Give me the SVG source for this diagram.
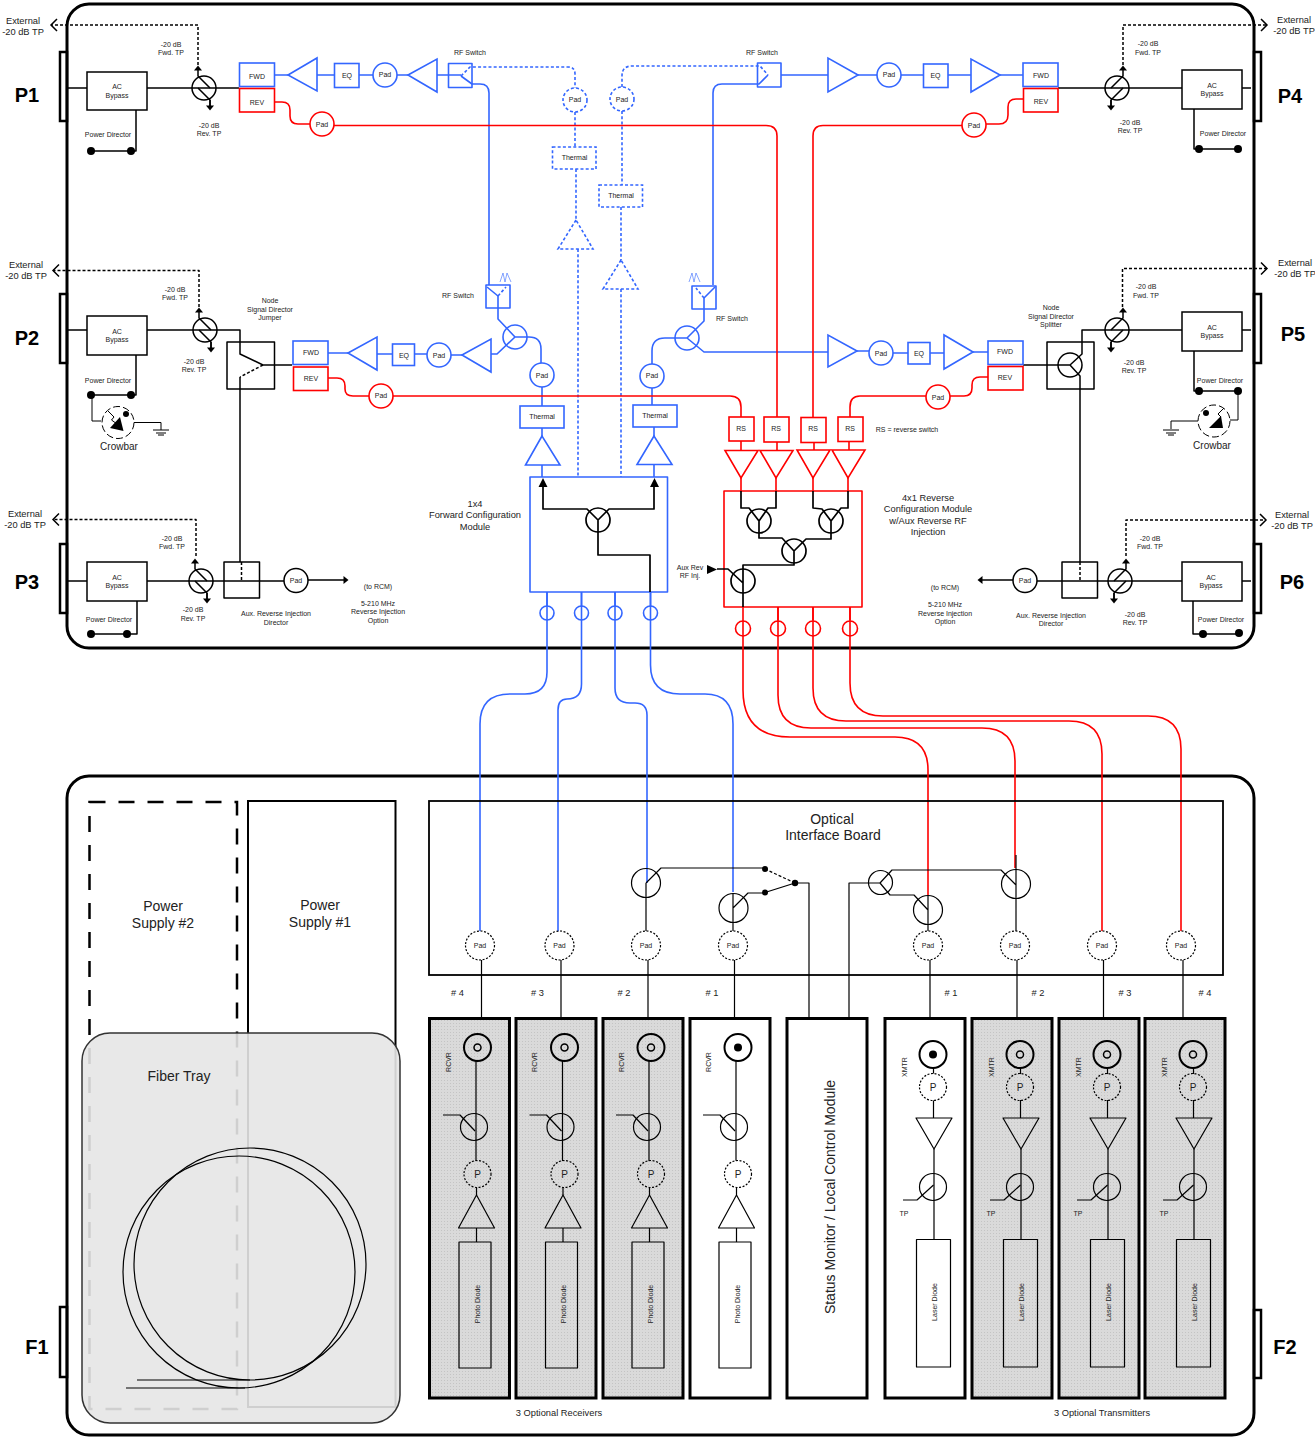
<svg xmlns="http://www.w3.org/2000/svg" width="1315" height="1437" viewBox="0 0 1315 1437">
<style>
text{font-family:"Liberation Sans",Arial,sans-serif;font-size:7px;fill:#222;text-anchor:middle}
.t9{font-size:9.300px}.t14{font-size:14px}.t10{font-size:10px}.big{font-size:20px;font-weight:bold;fill:#000}
.k,.b,.r{fill:none;stroke-linejoin:round}
.k{stroke:#000;stroke-width:1.5}.b{stroke:#3366ff;stroke-width:1.6}.r{stroke:#f00;stroke-width:1.6}
.k1{stroke-width:1}.k12{stroke-width:1.2}.k17{stroke-width:1.700}.k2{stroke-width:2}.thin{stroke-width:.6}
.bd{stroke-dasharray:3 2.2}.kd{stroke-dasharray:3 2}
.wb{fill:#fff;stroke:#3366ff;stroke-width:1.6}.wr{fill:#fff;stroke:#f00;stroke-width:1.6}.wk{fill:#fff;stroke:#000;stroke-width:1.5}
.pd{fill:#fff;stroke:#000;stroke-width:1.2;stroke-dasharray:2 1.6}.nf{fill:none}
.ch{fill:none;stroke:#000;stroke-width:3}.pt{fill:none;stroke:#000;stroke-width:2.5}
.card{stroke:#000;stroke-width:3}.dk{fill:#000;stroke:none}
</style>
<defs>
<pattern id="dots" width="3" height="3" patternUnits="userSpaceOnUse"><rect width="3" height="3" fill="#dadada"/><rect width="1" height="1" fill="#c4c4c4"/></pattern>
<marker id="ah" markerUnits="userSpaceOnUse" markerWidth="10" markerHeight="10" refX="5" refY="5" orient="auto"><path d="M2.500,1L7.500,5L2.500,9z" fill="#000"/></marker>
<marker id="chev" markerUnits="userSpaceOnUse" markerWidth="12" markerHeight="16" refX="7" refY="8" orient="auto"><path d="M1,2L7,8L1,14" fill="none" stroke="#000" stroke-width="1.5"/></marker>
<g id="cpL"><circle r="12" class="k"/><path class="k" d="M-6,-14V-12L6,0M-6,0L6,12V19"/><path class="k" d="M-6,-14V-20" marker-end="url(#ah)"/><path class="k" d="M6,12V20" marker-end="url(#ah)"/></g>
<g id="cpR"><circle r="12" class="k"/><path class="k" d="M6,-14V-12L-6,0M6,0L-6,12V19"/><path class="k" d="M6,-14V-20" marker-end="url(#ah)"/><path class="k" d="M-6,12V20" marker-end="url(#ah)"/></g>
<g id="rcvrBody"><path class="k k12" d="M46.500,43V143M47,169V177M47,210V224"/><circle class="k k12" cx="44.500" cy="109" r="13.500"/><path class="k k12" d="M13.500,97H30.500L45.500,113"/><path class="k k12" d="M47,177L29,210H65Z"/><rect class="k k12" x="29.500" y="224" width="32" height="126"/></g>
<g id="xmtrBody"><path class="k k12" d="M48.500,50V56M48.500,82V100M49,131V221"/><circle class="k k12" cx="48" cy="169" r="13.500"/><path class="k k12" d="M48.500,167L32,182H18"/><path class="k k12" d="M31,100H67L49,131Z"/><rect class="k k12" x="31.500" y="221.500" width="34" height="127.500"/></g>
<g id="gnd"><path class="k k1" d="M-8,0H8M-5,3H5M-3,5H3"/></g>
</defs>
<rect width="1315" height="1437" fill="#fff"/>

<g id="chassis-top"><rect class="ch" x="67" y="4" width="1187" height="644" rx="22"/></g>
<g id="chassis-bottom"><rect class="ch" x="67" y="776" width="1187" height="659" rx="22"/></g>

<g id="connectors">
<path class="k" d="M67,88H87M147,88H239M1058,88H1182M1242,88H1251"/>
<path class="k" d="M67,330H87M147,330H240V354L263,365H292M240,377V562"/>
<path class="k kd" d="M263,365L240,377"/>
<path class="k" d="M67,581H87M147,581H284"/>
<path class="k" d="M308,580H346" marker-end="url(#ah)"/>
<path class="k" d="M1182,330H1082V354L1070,365L1080,376V562M1023,365H1070M1242,330H1251"/>
<path class="k" d="M1251,581H1242M1182,581H1037"/>
<path class="k" d="M1013,580H980" marker-end="url(#ah)"/>
<path class="k kd" d="M241.500,562V581M1080,562V581"/>
<path class="k kd" d="M198,65V25H51" marker-end="url(#chev)"/>
<path class="k kd" d="M199,307V270.500H53" marker-end="url(#chev)"/>
<path class="k kd" d="M196,556V519.500H53" marker-end="url(#chev)"/>
<path class="k kd" d="M1123,65V25H1267" marker-end="url(#chev)"/>
<path class="k kd" d="M1122.500,307V268.500H1267" marker-end="url(#chev)"/>
<path class="k kd" d="M1126,556V520H1266" marker-end="url(#chev)"/>
<path class="k" d="M136,110V151H91"/>
<path class="k" d="M136,355V395H91"/>
<path class="k" d="M137,601V634H91"/>
<path class="k" d="M1194,109V149H1238"/>
<path class="k" d="M1194,351V391H1238"/>
<path class="k" d="M1193,601V634H1239"/>
<path class="k k1" d="M92,395V421H101M134,422.500H161V430"/>
<path class="k k1" d="M1238,391V420H1230M1198,421H1171V429"/>
<path class="b" d="M274,75H288M317,75H334M359,75H373M397,75H408M437,75H461M461,76L472,84H480Q489,84 489,93V285"/>
<path class="b bd" d="M461,76L470,67H568Q575,67 575,74V88M575,112V147M576,169V220M578,249V477"/>
<path class="b bd" d="M622,87V76Q622,66 632,66H760L768,75M622,111V185M621,207V260M621,289V477"/>
<path class="b" d="M781,75H828M858,75H877M901,75H923M948,75H971M1000,75H1023M768,75L759,84H722Q713,84 713,93V285"/>
<path class="b" d="M328,353H348M377,354H392M414,354H427M451,355H462M491,354H497L515,337L498,319V296M515,337H529Q541,337 541,349V363M542,387V406M542,428V436M542,465V477"/>
<path class="b" d="M828,352H704L687,338L704,321V298M687,338H665Q652,338 652,351V364M652,388V405M654,427V436M654,465V477"/>
<path class="b" d="M857,351H869M893,353H908M930,353H944M973,352H988"/>
<path class="b" d="M547,592V672Q547,694 525,694H510Q480,694 480,724V932"/>
<path class="b" d="M581.500,592V684Q581.500,699 567,699Q558,699 558,710V932"/>
<path class="b" d="M615,592V688Q615,703 630,703H635Q647,703 647,715V883"/>
<path class="b" d="M650.500,592V665Q650.500,694 680,694H705Q733,694 733,724V892"/>
<path class="r" d="M274,102H282Q290,102 290,110V116Q290,124 298,124H310M334,125.500H766Q777,125.500 777,136V417"/>
<path class="r" d="M1023,99H1016Q1008,99 1008,107V115Q1008,124 999,124H986M962,125.500H823Q813,125.500 813,136V417"/>
<path class="r" d="M328,378H337Q345,378 345,386V389Q345,396 353,396H369M393,396H730Q741,396 741,407V417"/>
<path class="r" d="M988,377H980Q972,377 972,385V388Q972,396 964,396H950M926,396H860Q850,396 850,407V417"/>
<path class="r" d="M741,441V450M741,478V491M777,442V450M776,478V491M814,442V450M813,478V491M849,441V450M848,478V491"/>
<path class="r" d="M743,607V690Q743,737 790,737H895Q928,737 928,770V895"/>
<path class="r" d="M778,607V695Q778,728 811,728H982Q1015,728 1015,761V868"/>
<path class="r" d="M813,607V688Q813,721 846,721H1069Q1102,721 1102,754V932"/>
<path class="r" d="M850,607V683Q850,716 883,716H1148Q1181,716 1181,749V932"/>
<path class="k k12" d="M646,883L661,868H765M646,883V931M733,893V931M733,908L748,893H765M765,892.500L795,883H809V1018"/>
<path class="k kd k12" d="M765,869L795,883"/>
<path class="k k12" d="M849,1018V883H880L892,870H1001L1016,885M880,883L890,895H914L928,910M928,895V931M1016,855V931"/>
<path class="k k12" d="M481.500,960V1018M561,960V1018M648,960V1018M734.500,960V1018M930,960V1018M1017,960V1018M1103.500,960V1018M1183,960V1018"/>
</g>

<g id="P1"><rect class="pt" x="60" y="52" width="7" height="69"/><text class="big" x="27" y="102">P1</text><text class="t9" x="23" y="24">External</text><text class="t9" x="23" y="35">-20 dB TP</text></g>
<g id="P2"><rect class="pt" x="60" y="294" width="7" height="69"/><text class="big" x="27" y="345">P2</text><text class="t9" x="26" y="268">External</text><text class="t9" x="26" y="279">-20 dB TP</text></g>
<g id="P3"><rect class="pt" x="60" y="544" width="7" height="69"/><text class="big" x="27" y="589">P3</text><text class="t9" x="25" y="517">External</text><text class="t9" x="25" y="528">-20 dB TP</text></g>
<g id="P4"><rect class="pt" x="1254" y="52" width="7" height="69"/><text class="big" x="1290" y="103">P4</text><text class="t9" x="1294" y="23">External</text><text class="t9" x="1294" y="34">-20 dB TP</text></g>
<g id="P5"><rect class="pt" x="1254" y="294" width="7" height="69"/><text class="big" x="1293" y="341">P5</text><text class="t9" x="1295" y="266">External</text><text class="t9" x="1295" y="277">-20 dB TP</text></g>
<g id="P6"><rect class="pt" x="1254" y="544" width="7" height="69"/><text class="big" x="1292" y="589">P6</text><text class="t9" x="1292" y="518">External</text><text class="t9" x="1292" y="529">-20 dB TP</text></g>
<g id="F1"><rect class="pt k2" x="60" y="1307" width="7" height="70"/><text class="big" x="37" y="1354">F1</text></g>
<g id="F2"><rect class="pt k2" x="1254" y="1310" width="7" height="68"/><text class="big" x="1285" y="1354">F2</text></g>

<g id="bypass-1"><rect class="wk" x="87" y="72" width="60" height="38"/><text x="117" y="89">AC</text><text x="117" y="98">Bypass</text></g>
<g id="bypass-2"><rect class="wk" x="87" y="316" width="60" height="39"/><text x="117" y="334">AC</text><text x="117" y="342">Bypass</text></g>
<g id="bypass-3"><rect class="wk" x="87" y="562" width="60" height="39"/><text x="117" y="580">AC</text><text x="117" y="588">Bypass</text></g>
<g id="bypass-4"><rect class="wk" x="1182" y="70" width="60" height="39"/><text x="1212" y="88">AC</text><text x="1212" y="96">Bypass</text></g>
<g id="bypass-5"><rect class="wk" x="1182" y="312" width="60" height="39"/><text x="1212" y="330">AC</text><text x="1212" y="338">Bypass</text></g>
<g id="bypass-6"><rect class="wk" x="1182" y="562" width="60" height="39"/><text x="1211" y="580">AC</text><text x="1211" y="588">Bypass</text></g>

<g id="coupler-1"><use href="#cpL" x="204" y="88"/><text x="171" y="47">-20 dB</text><text x="171" y="55">Fwd. TP</text><text x="209" y="128">-20 dB</text><text x="209" y="136">Rev. TP</text></g>
<g id="coupler-2"><use href="#cpL" x="205" y="330"/><text x="175" y="292">-20 dB</text><text x="175" y="300">Fwd. TP</text><text x="194" y="364">-20 dB</text><text x="194" y="372">Rev. TP</text></g>
<g id="coupler-3"><use href="#cpL" x="201" y="581"/><text x="172" y="541">-20 dB</text><text x="172" y="549">Fwd. TP</text><text x="193" y="612">-20 dB</text><text x="193" y="621">Rev. TP</text></g>
<g id="coupler-4"><use href="#cpR" x="1117" y="88"/><text x="1148" y="46">-20 dB</text><text x="1148" y="55">Fwd. TP</text><text x="1130" y="125">-20 dB</text><text x="1130" y="133">Rev. TP</text></g>
<g id="coupler-5"><use href="#cpR" x="1117" y="330"/><text x="1146" y="289">-20 dB</text><text x="1146" y="298">Fwd. TP</text><text x="1134" y="365">-20 dB</text><text x="1134" y="373">Rev. TP</text></g>
<g id="coupler-6"><use href="#cpR" x="1120" y="581"/><text x="1150" y="541">-20 dB</text><text x="1150" y="549">Fwd. TP</text><text x="1135" y="617">-20 dB</text><text x="1135" y="625">Rev. TP</text></g>

<g id="pd-1"><circle class="dk" cx="91" cy="151" r="4"/><circle class="dk" cx="131" cy="151" r="4"/><text x="108" y="137">Power Director</text></g>
<g id="pd-2"><circle class="dk" cx="91" cy="395" r="4"/><circle class="dk" cx="131" cy="395" r="4"/><text x="108" y="383">Power Director</text></g>
<g id="pd-3"><circle class="dk" cx="91" cy="634" r="4"/><circle class="dk" cx="127" cy="634" r="4"/><text x="109" y="622">Power Director</text></g>
<g id="pd-4"><circle class="dk" cx="1199" cy="149" r="4"/><circle class="dk" cx="1238" cy="149" r="4"/><text x="1223" y="136">Power Director</text></g>
<g id="pd-5"><circle class="dk" cx="1199" cy="391" r="4"/><circle class="dk" cx="1238" cy="391" r="4"/><text x="1220" y="383">Power Director</text></g>
<g id="pd-6"><circle class="dk" cx="1203" cy="634" r="4"/><circle class="dk" cx="1239" cy="633" r="4"/><text x="1221" y="622">Power Director</text></g>

<g id="crowbar-1"><circle class="k k1" stroke-dasharray="7 3" cx="118" cy="422.500" r="16"/><circle class="dk" cx="126" cy="414" r="3"/><path class="dk" d="M110,428L120,417L123.500,431Z"/><path class="k k1" d="M108,411L114,417L111.500,420L117,424"/><use href="#gnd" x="161" y="430"/><text class="t10" x="119" y="450">Crowbar</text></g>
<g id="crowbar-2"><circle class="k k1" stroke-dasharray="7 3" cx="1214" cy="421" r="16"/><circle class="dk" cx="1206" cy="413" r="3"/><path class="dk" d="M1209,428L1221,416L1223,428Z"/><path class="k k1" d="M1224,408L1218,414L1221,417"/><use href="#gnd" x="1171" y="430"/><text class="t10" x="1212" y="449">Crowbar</text></g>

<g id="jumper"><rect class="k" x="227" y="342" width="47.500" height="47"/><text x="270" y="303">Node</text><text x="270" y="312">Signal Director</text><text x="270" y="320">Jumper</text></g>
<g id="splitter"><rect class="k" x="1047" y="342" width="47" height="47"/><circle class="k" cx="1070" cy="365" r="12"/><text x="1051" y="310">Node</text><text x="1051" y="319">Signal Director</text><text x="1051" y="327">Splitter</text></g>
<g id="aux-dir-l"><rect class="k" x="224" y="562" width="35.500" height="36"/><text x="276" y="616">Aux. Reverse Injection</text><text x="276" y="625">Director</text></g>
<g id="aux-dir-r"><rect class="k" x="1062" y="562" width="35.500" height="36"/><text x="1051" y="618">Aux. Reverse Injection</text><text x="1051" y="626">Director</text></g>
<g id="pad-l"><circle class="wk" cx="296" cy="580.500" r="12"/><text x="296" y="583">Pad</text></g>
<g id="pad-r"><circle class="wk" cx="1025" cy="580.500" r="12"/><text x="1025" y="583">Pad</text></g>
<g id="opt-l"><text x="378" y="589">(to RCM)</text><text x="378" y="606">5-210 MHz</text><text x="378" y="614">Reverse Injection</text><text x="378" y="623">Option</text></g>
<g id="opt-r"><text x="945" y="590">(to RCM)</text><text x="945" y="607">5-210 MHz</text><text x="945" y="616">Reverse Injection</text><text x="945" y="624">Option</text></g>

<g id="fwd-1"><rect class="wb" x="239.500" y="63" width="35" height="23.500"/><text x="257" y="78.500">FWD</text></g>
<g id="rev-1"><rect class="wr" x="239.500" y="88.500" width="35" height="23.500"/><text x="257" y="105">REV</text></g>
<g id="amp-1"><path class="wb" d="M288,75L317,58V91Z"/></g>
<g id="eq-1"><rect class="wb" x="334.500" y="63.500" width="24.500" height="24"/><text x="347" y="78">EQ</text></g>
<g id="pad-1"><circle class="wb" cx="385" cy="75" r="12"/><text x="385" y="77">Pad</text></g>
<g id="amp-2"><path class="wb" d="M408,75L437,59V92Z"/></g>
<g id="rfsw-1"><rect class="b" x="448.500" y="63.500" width="23.500" height="24"/><text x="470" y="55">RF Switch</text></g>
<g id="pad-rev-1"><circle class="wr" cx="322" cy="124" r="12"/><text x="322" y="127">Pad</text></g>
<g id="pad-d1"><circle class="wb bd" cx="575" cy="100" r="12"/><text x="575" y="102">Pad</text></g>
<g id="thermal-d1"><rect class="wb bd" x="552.500" y="147" width="43.500" height="22"/><text x="574.500" y="160">Thermal</text></g>
<g id="amp-d1"><path class="wb bd" d="M576,220L558,249H593Z"/></g>
<g id="pad-d2"><circle class="wb bd" cx="622" cy="99" r="12"/><text x="622" y="102">Pad</text></g>
<g id="thermal-d2"><rect class="wb bd" x="599" y="185" width="43.500" height="22"/><text x="621" y="198">Thermal</text></g>
<g id="amp-d2"><path class="wb bd" d="M621,260L603,289H638Z"/></g>
<g id="rfsw-4"><rect class="b" x="757.500" y="63" width="23.500" height="24"/><text x="762" y="55">RF Switch</text></g>
<g id="amp-3"><path class="wb" d="M858,75L828,58V92Z"/></g>
<g id="pad-4"><circle class="wb" cx="889" cy="75" r="12"/><text x="889" y="77">Pad</text></g>
<g id="eq-4"><rect class="wb" x="923.500" y="64" width="24.500" height="23.500"/><text x="935.500" y="78">EQ</text></g>
<g id="amp-4"><path class="wb" d="M1000,75L971,59V92Z"/></g>
<g id="fwd-4"><rect class="wb" x="1023" y="63" width="35" height="23.500"/><text x="1041" y="78">FWD</text></g>
<g id="rev-4"><rect class="wr" x="1023.500" y="88.500" width="34.500" height="23.500"/><text x="1041" y="104">REV</text></g>
<g id="pad-rev-4"><circle class="wr" cx="974" cy="125" r="12"/><text x="974" y="128">Pad</text></g>
<g id="fwd-2"><rect class="wb" x="293" y="341" width="35" height="23.500"/><text x="311" y="355">FWD</text></g>
<g id="rev-2"><rect class="wr" x="293.500" y="367" width="34.500" height="23.500"/><text x="311" y="381">REV</text></g>
<g id="amp-5"><path class="wb" d="M348,353L377,337V370Z"/></g>
<g id="eq-2"><rect class="wb" x="392.500" y="344" width="22" height="21.500"/><text x="404" y="358">EQ</text></g>
<g id="pad-2"><circle class="wb" cx="439" cy="355" r="12"/><text x="439" y="358">Pad</text></g>
<g id="amp-6"><path class="wb" d="M462,355L491,339V372Z"/></g>
<g id="splitter-b1"><circle class="b" cx="515" cy="337" r="12"/></g>
<g id="rfsw-2"><rect class="b" x="486" y="285" width="24" height="23"/><path class="b" d="M498,296L487,287"/><path class="b bd" d="M498,296L506,287"/><path class="b thin" d="M500,282L503,273L505,282L507,273L511,282"/><text x="458" y="298">RF Switch</text></g>
<g id="pad-f1"><circle class="wb" cx="542" cy="375" r="12"/><text x="542" y="378">Pad</text></g>
<g id="thermal-1"><rect class="wb" x="520" y="406" width="44" height="22"/><text x="542" y="419">Thermal</text></g>
<g id="amp-f1"><path class="wb" d="M542,436L525.500,465H560Z"/></g>
<g id="rfsw-5"><rect class="b" x="692" y="286" width="24" height="23"/><path class="b" d="M704,298L715,287"/><path class="b bd" d="M704,298L696,288"/><path class="b thin" d="M689,282L692,273L694,282L696,273L700,282"/><text x="732" y="321">RF Switch</text></g>
<g id="splitter-b2"><circle class="b" cx="687" cy="338" r="12"/></g>
<g id="pad-f2"><circle class="wb" cx="652" cy="376" r="12"/><text x="652" y="378">Pad</text></g>
<g id="thermal-2"><rect class="wb" x="633" y="405" width="44" height="22"/><text x="655" y="418">Thermal</text></g>
<g id="amp-f2"><path class="wb" d="M654,436L637,464.500H672Z"/></g>
<g id="amp-7"><path class="wb" d="M857,351L828,335V367Z"/></g>
<g id="pad-5"><circle class="wb" cx="881" cy="353" r="12"/><text x="881" y="356">Pad</text></g>
<g id="eq-5"><rect class="wb" x="908" y="342.500" width="22" height="21.500"/><text x="919" y="356">EQ</text></g>
<g id="amp-8"><path class="wb" d="M973,352L944,335V369Z"/></g>
<g id="fwd-5"><rect class="wb" x="988" y="341" width="35" height="23.500"/><text x="1005" y="354">FWD</text></g>
<g id="rev-5"><rect class="wr" x="988" y="366.500" width="35" height="23.500"/><text x="1005" y="380">REV</text></g>
<g id="pad-rev-2"><circle class="wr" cx="381" cy="396" r="12"/><text x="381" y="398">Pad</text></g>
<g id="pad-rev-5"><circle class="wr" cx="938" cy="397" r="12"/><text x="938" y="400">Pad</text></g>
<g id="rs-1"><rect class="wr" x="729" y="417" width="25" height="24"/><text x="741" y="431">RS</text></g>
<g id="rs-2"><rect class="wr" x="764" y="417" width="25" height="25"/><text x="776" y="431">RS</text></g>
<g id="rs-3"><rect class="wr" x="801" y="417.500" width="25" height="25"/><text x="813" y="431">RS</text></g>
<g id="rs-4"><rect class="wr" x="838" y="417" width="25" height="24.500"/><text x="850" y="431">RS</text></g>
<g id="rs-note"><text x="907" y="432">RS = reverse switch</text></g>
<g id="ramp-1"><path class="wr" d="M725,450.500H758L741,478Z"/></g>
<g id="ramp-2"><path class="wr" d="M760,450.500H793L776,478Z"/></g>
<g id="ramp-3"><path class="wr" d="M797,450H830L813,478Z"/></g>
<g id="ramp-4"><path class="wr" d="M832,450H865L848,478Z"/></g>

<g id="forward-module">
<rect class="b" x="530" y="477" width="137.500" height="115"/>
<path class="k k17" d="M543,486V509H587L598,520L609,509H654V486M598,520V555H650V592"/>
<path class="dk" d="M543,478L538.500,487H547.500ZM654.500,478L650,487H659Z"/>
<circle class="k k17" cx="598" cy="520" r="12"/>
<text class="t9" x="475" y="507">1x4</text><text class="t9" x="475" y="518">Forward Configuration</text><text class="t9" x="475" y="530">Module</text>
</g>
<g id="fwd-ports"><path class="b" d="M547,592V606M581.500,592V606M615,592V606M650.500,592V606"/><circle class="b" cx="547" cy="613" r="7"/><circle class="b" cx="581.500" cy="613" r="7"/><circle class="b" cx="615" cy="613" r="7"/><circle class="b" cx="650.500" cy="613" r="7"/></g>

<g id="reverse-module">
<rect class="r" x="724" y="491" width="138" height="116"/>
<path class="k k17" d="M741,491V508H749L759,521L768,508H776V491M759,521V538H782L794,551L806,539H831V521L822,509L813,508V491M831,521L841,508H848V491M794,551V565H743V607M717,569H728L743,583"/>
<path class="dk" d="M707,565L717,569.500L707,574Z"/>
<circle class="k k17" cx="759" cy="521" r="12"/><circle class="k k17" cx="831" cy="521" r="12"/><circle class="k k17" cx="794" cy="551" r="12"/><circle class="k k17" cx="743" cy="581" r="12"/>
<text x="690" y="570">Aux Rev</text><text x="690" y="578">RF Inj.</text>
<text class="t9" x="928" y="501">4x1 Reverse</text><text class="t9" x="928" y="512">Configuration Module</text><text class="t9" x="928" y="524">w/Aux Reverse RF</text><text class="t9" x="928" y="535">Injection</text>
</g>
<g id="rev-ports"><path class="r" d="M778,607V620M813,607V620M850,607V620"/><circle class="r" cx="743" cy="628.500" r="7.500"/><circle class="r" cx="778" cy="628.500" r="7.500"/><circle class="r" cx="813" cy="628.500" r="7.500"/><circle class="r" cx="850" cy="628.500" r="7.500"/></g>

<g id="psu-2"><rect fill="none" stroke="#000" stroke-width="2.500" stroke-dasharray="16 13" x="89.500" y="802" width="147.500" height="607"/><text class="t14" x="163" y="911">Power</text><text class="t14" x="163" y="928">Supply #2</text></g>
<g id="psu-1"><rect fill="none" stroke="#000" stroke-width="2" x="248" y="801" width="147.500" height="606"/><text class="t14" x="320" y="910">Power</text><text class="t14" x="320" y="927">Supply #1</text></g>
<g id="fiber-tray"><rect fill="#e5e5e5" fill-opacity=".9" stroke="#333" stroke-width="1.500" x="82" y="1033" width="318" height="390" rx="28"/>
<circle class="k k12" cx="239" cy="1272" r="116"/><circle class="k k12" cx="250" cy="1264" r="116"/><path class="k k12" d="M126,1388H245M137,1380H250"/>
<text class="t14" x="179" y="1081">Fiber Tray</text></g>

<g id="optical-board"><rect fill="none" stroke="#000" stroke-width="1.800" x="429" y="801" width="794" height="174"/><text class="t14" x="832" y="824">Optical</text><text class="t14" x="833" y="840">Interface Board</text></g>
<g id="oib-switch">
<circle class="k k12" cx="646" cy="883" r="14.500"/><circle class="k k12" cx="733.500" cy="908" r="14.500"/>
<circle class="dk" cx="765" cy="869" r="3"/><circle class="dk" cx="765" cy="892.500" r="3"/><circle class="dk" cx="795" cy="883" r="3.200"/>
<circle class="k k12" cx="880.500" cy="882.500" r="12"/><circle class="k k12" cx="928" cy="910" r="14.500"/><circle class="k k12" cx="1016" cy="884" r="14.500"/>
</g>
<g id="oib-pad-r4"><circle class="pd" cx="480" cy="945.500" r="14.500"/><text x="480" y="948">Pad</text><text class="t9" x="457.500" y="996"># 4</text></g>
<g id="oib-pad-r3"><circle class="pd" cx="559.500" cy="945.500" r="14.500"/><text x="559.500" y="948">Pad</text><text class="t9" x="537.500" y="996"># 3</text></g>
<g id="oib-pad-r2"><circle class="pd" cx="646" cy="945.500" r="14.500"/><text x="646" y="948">Pad</text><text class="t9" x="624" y="996"># 2</text></g>
<g id="oib-pad-r1"><circle class="pd" cx="733" cy="945.500" r="14.500"/><text x="733" y="948">Pad</text><text class="t9" x="712" y="996"># 1</text></g>
<g id="oib-pad-x1"><circle class="pd" cx="928" cy="945.500" r="14.500"/><text x="928" y="948">Pad</text><text class="t9" x="951" y="996"># 1</text></g>
<g id="oib-pad-x2"><circle class="pd" cx="1015" cy="945.500" r="14.500"/><text x="1015" y="948">Pad</text><text class="t9" x="1038" y="996"># 2</text></g>
<g id="oib-pad-x3"><circle class="pd" cx="1102" cy="945.500" r="14.500"/><text x="1102" y="948">Pad</text><text class="t9" x="1125" y="996"># 3</text></g>
<g id="oib-pad-x4"><circle class="pd" cx="1181" cy="945.500" r="14.500"/><text x="1181" y="948">Pad</text><text class="t9" x="1205" y="996"># 4</text></g>

<g id="rcvr-4"><rect class="card" fill="url(#dots)" x="429.500" y="1018.500" width="80" height="379.500"/><g transform="translate(429.500,1018)"><use href="#rcvrBody"/><circle class="k k2" cx="48" cy="29.500" r="13.500"/><circle class="k" cx="48" cy="29.500" r="3.500"/><circle class="pd nf" cx="48" cy="156" r="13.500"/></g><text class="t10" x="477.500" y="1178">P</text><text transform="translate(479.500,1304) rotate(-90)">Photo Diode</text><text transform="translate(450.500,1062) rotate(-90)">RCVR</text></g>
<g id="rcvr-3"><rect class="card" fill="url(#dots)" x="516" y="1018.500" width="80" height="379.500"/><g transform="translate(516,1018)"><use href="#rcvrBody"/><circle class="k k2" cx="48.500" cy="29.500" r="13.500"/><circle class="k" cx="48.500" cy="29.500" r="3.500"/><circle class="pd nf" cx="48.500" cy="156" r="13.500"/></g><text class="t10" x="564.500" y="1178">P</text><text transform="translate(566,1304) rotate(-90)">Photo Diode</text><text transform="translate(537,1062) rotate(-90)">RCVR</text></g>
<g id="rcvr-2"><rect class="card" fill="url(#dots)" x="603" y="1018.500" width="80" height="379.500"/><g transform="translate(602.500,1018)"><use href="#rcvrBody"/><circle class="k k2" cx="48.500" cy="29.500" r="13.500"/><circle class="k" cx="48.500" cy="29.500" r="3.500"/><circle class="pd nf" cx="48.500" cy="156" r="13.500"/></g><text class="t10" x="651" y="1178">P</text><text transform="translate(652.500,1304) rotate(-90)">Photo Diode</text><text transform="translate(623.500,1062) rotate(-90)">RCVR</text></g>
<g id="rcvr-1"><rect class="card" fill="#fff" x="690" y="1018.500" width="80" height="379.500"/><g transform="translate(689.500,1018)"><use href="#rcvrBody"/><circle class="k k2" cx="48.500" cy="29.500" r="13.500"/><circle class="dk" cx="48.500" cy="29.500" r="4"/><circle class="pd" cx="48.500" cy="156" r="13.500"/></g><text class="t10" x="738" y="1178">P</text><text transform="translate(739.500,1304) rotate(-90)">Photo Diode</text><text transform="translate(710.500,1062) rotate(-90)">RCVR</text></g>
<g id="status-module"><rect class="card" fill="#fff" x="787" y="1018.500" width="80" height="379.500"/><text class="t14" transform="translate(835,1197) rotate(-90)">Status Monitor / Local Control Module</text></g>
<g id="xmtr-1"><rect class="card" fill="#fff" x="885" y="1018.500" width="80" height="379.500"/><g transform="translate(885,1018)"><use href="#xmtrBody"/><circle class="k k2" cx="48" cy="36.500" r="13.500"/><circle class="dk" cx="48" cy="36.500" r="4"/><circle class="pd" cx="48" cy="69" r="13.500"/></g><text class="t10" x="933" y="1091">P</text><text x="904" y="1216">TP</text><text transform="translate(937,1302) rotate(-90)">Laser Diode</text><text transform="translate(907,1067) rotate(-90)">XMTR</text></g>
<g id="xmtr-2"><rect class="card" fill="url(#dots)" x="972" y="1018.500" width="80" height="379.500"/><g transform="translate(972,1018)"><use href="#xmtrBody"/><circle class="k k2" cx="48" cy="36.500" r="13.500"/><circle class="k" cx="48" cy="36.500" r="3.500"/><circle class="pd nf" cx="48" cy="69" r="13.500"/></g><text class="t10" x="1020" y="1091">P</text><text x="991" y="1216">TP</text><text transform="translate(1024,1302) rotate(-90)">Laser Diode</text><text transform="translate(994,1067) rotate(-90)">XMTR</text></g>
<g id="xmtr-3"><rect class="card" fill="url(#dots)" x="1059" y="1018.500" width="80" height="379.500"/><g transform="translate(1059,1018)"><use href="#xmtrBody"/><circle class="k k2" cx="48" cy="36.500" r="13.500"/><circle class="k" cx="48" cy="36.500" r="3.500"/><circle class="pd nf" cx="48" cy="69" r="13.500"/></g><text class="t10" x="1107" y="1091">P</text><text x="1078" y="1216">TP</text><text transform="translate(1110.500,1302) rotate(-90)">Laser Diode</text><text transform="translate(1081,1067) rotate(-90)">XMTR</text></g>
<g id="xmtr-4"><rect class="card" fill="url(#dots)" x="1145" y="1018.500" width="80" height="379.500"/><g transform="translate(1145,1018)"><use href="#xmtrBody"/><circle class="k k2" cx="48" cy="36.500" r="13.500"/><circle class="k" cx="48" cy="36.500" r="3.500"/><circle class="pd nf" cx="48" cy="69" r="13.500"/></g><text class="t10" x="1193" y="1091">P</text><text x="1164" y="1216">TP</text><text transform="translate(1197,1302) rotate(-90)">Laser Diode</text><text transform="translate(1167,1067) rotate(-90)">XMTR</text></g>
<g id="caption-rx"><text class="t9" x="559" y="1416">3 Optional Receivers</text></g>
<g id="caption-tx"><text class="t9" x="1102" y="1416">3 Optional Transmitters</text></g>
</svg>
